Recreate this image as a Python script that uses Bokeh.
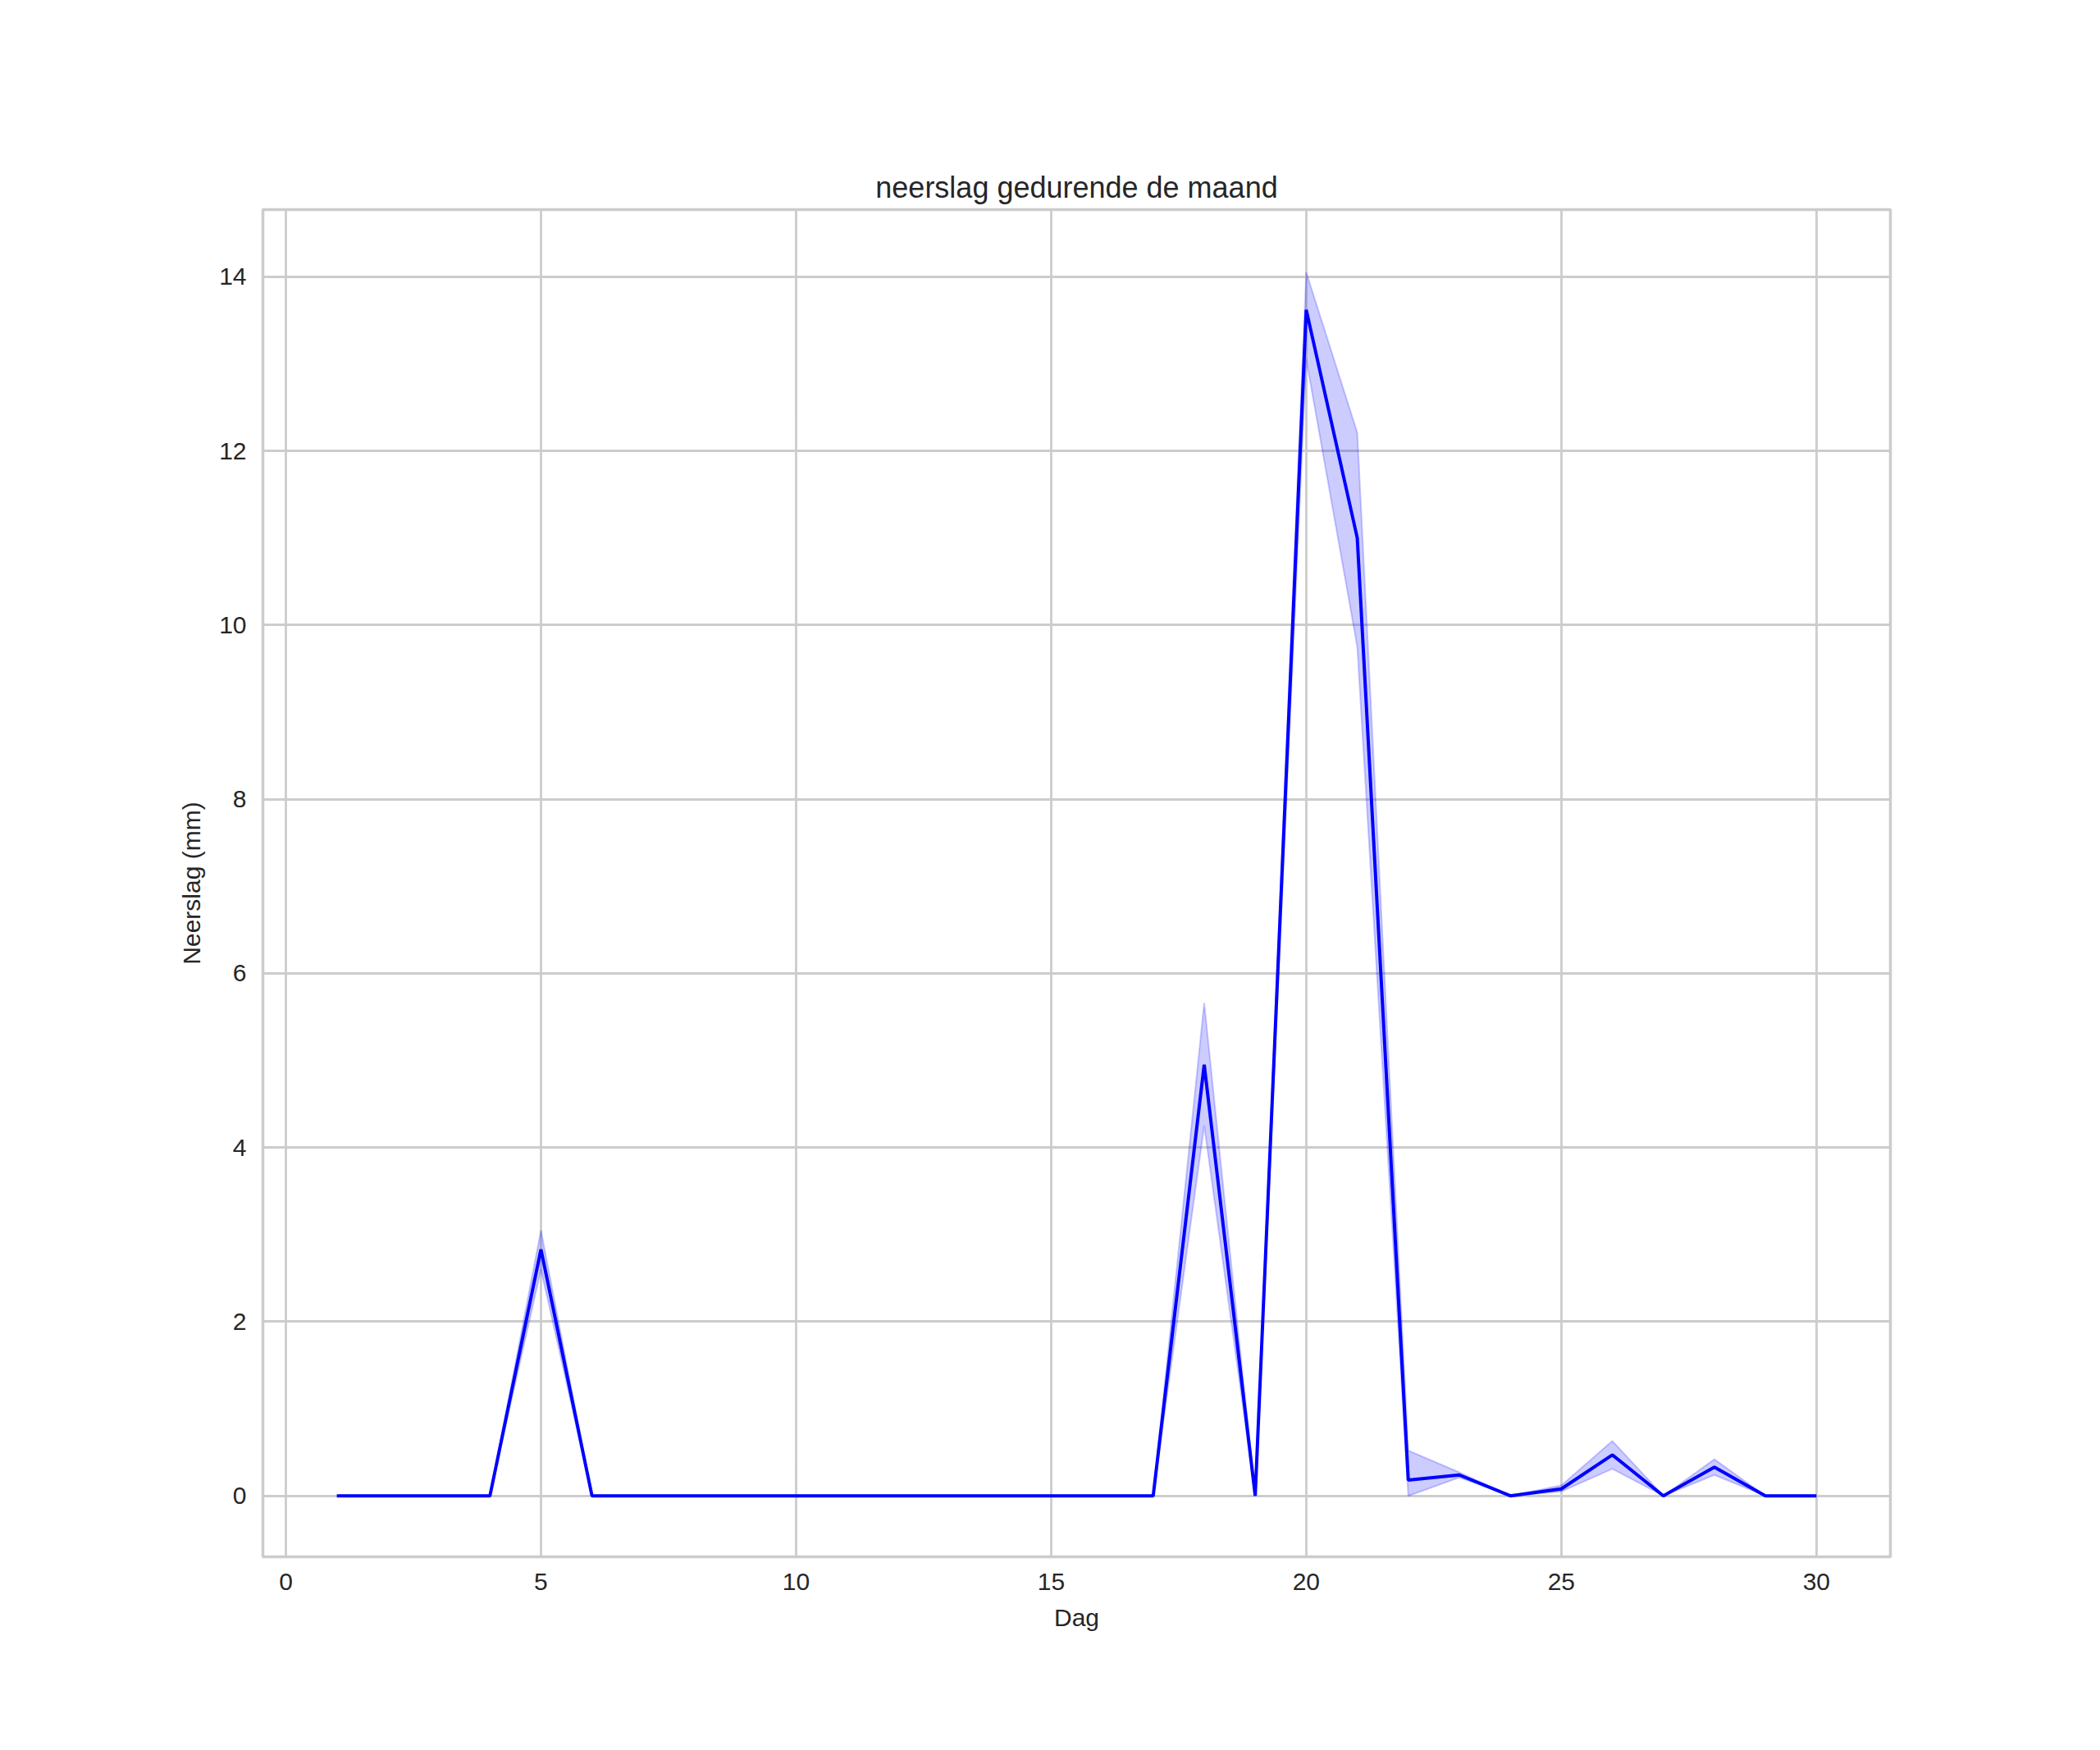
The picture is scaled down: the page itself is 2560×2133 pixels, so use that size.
from bokeh.plotting import figure
from bokeh.models import Range1d, FixedTicker, ColumnDataSource
from bokeh.embed import file_html
from bokeh.resources import INLINE

# Data
dagen = list(range(1, 31))
neerslag_gem = [0, 0, 0, 0, 2.83, 0, 0, 0, 0, 0, 0, 0, 0, 0, 0, 0, 0, 4.95, 0, 13.62,
                11.0, 0.18, 0.24, 0, 0.08, 0.47, 0, 0.33, 0, 0]
neerslag_hoog = [0, 0, 0, 0, 3.05, 0, 0, 0, 0, 0, 0, 0, 0, 0, 0, 0, 0, 5.66, 0, 14.05,
                 12.21, 0.52, 0.27, 0, 0.12, 0.63, 0, 0.42, 0, 0]
neerslag_laag = [0, 0, 0, 0, 2.60, 0, 0, 0, 0, 0, 0, 0, 0, 0, 0, 0, 0, 4.25, 0, 13.05,
                 9.75, 0, 0.21, 0, 0.05, 0.31, 0, 0.24, 0, 0]
x_ticks = [0, 5, 10, 15, 20, 25, 30]
y_ticks = [0, 2, 4, 6, 8, 10, 12, 14]

src = ColumnDataSource(dict(x=dagen, y=neerslag_gem, hi=neerslag_hoog, lo=neerslag_laag))

FONT = "Liberation Sans"
TXT = "#262626"
GRID = "#cccccc"

p = figure(width=2544, height=2117, output_backend="svg", toolbar_location=None,
           x_range=Range1d(-0.45, 31.45), y_range=Range1d(-0.70, 14.77),
           title="neerslag gedurende de maand",
           min_border_left=320, min_border_right=240, min_border_top=255, min_border_bottom=220)

p.title.align = "center"
p.title.text_font = FONT
p.title.text_font_size = "36px"
p.title.text_font_style = "normal"
p.title.text_color = TXT
p.title.standoff = 14

p.varea(x="x", y1="lo", y2="hi", source=src, fill_color="blue", fill_alpha=0.2)
p.line(x="x", y="hi", source=src, line_color="blue", line_alpha=0.2, line_width=2)
p.line(x="x", y="lo", source=src, line_color="blue", line_alpha=0.2, line_width=2)
p.line(x="x", y="y", source=src, line_color="blue", line_width=4)

p.xaxis.ticker = FixedTicker(ticks=x_ticks)
p.yaxis.ticker = FixedTicker(ticks=y_ticks)
p.xaxis.axis_label = "Dag"
p.yaxis.axis_label = "Neerslag (mm)"

for ax in [p.xaxis[0], p.yaxis[0]]:
    ax.axis_line_color = None
    ax.major_tick_line_color = None
    ax.minor_tick_line_color = None
    ax.major_tick_out = 0
    ax.major_tick_in = 0
    ax.major_label_text_font = FONT
    ax.major_label_text_font_size = "30px"
    ax.major_label_text_color = TXT
    ax.axis_label_text_font = FONT
    ax.axis_label_text_font_size = "30px"
    ax.axis_label_text_font_style = "normal"
    ax.axis_label_text_color = TXT
    ax.major_label_standoff = 20
    ax.axis_label_standoff = 14

for g in [p.xgrid[0], p.ygrid[0]]:
    g.grid_line_color = GRID
    g.grid_line_width = 2.8

p.outline_line_color = GRID
p.outline_line_width = 3.5
p.background_fill_color = "white"
p.border_fill_color = "white"

open("out.html", "w").write(file_html(p, INLINE))
